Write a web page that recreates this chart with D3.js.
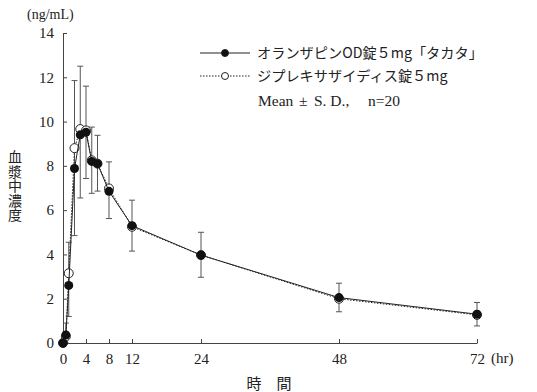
<!DOCTYPE html>
<html>
<head>
<meta charset="utf-8">
<script src="https://cdn.jsdelivr.net/npm/d3@7"></script>
<style>
  body { margin: 0; background: #fff; }
  text { font-family: "Liberation Serif", "DejaVu Serif", serif; fill: #222; }
  .jp { font-family: "Noto Sans CJK JP", sans-serif; }
</style>
</head>
<body>
<svg id="chart" width="537" height="392"></svg>
<script>
(function () {
    'use strict';

    // sampling times (hr)
    var times = [0, 0.5, 1, 2, 3, 4, 5, 6, 8, 12, 24, 48, 72];
    // オランザピンOD錠5mg「タカタ」 mean
    var testMean = [0, 0.36, 2.6, 7.88, 9.4, 9.52, 8.2, 8.1, 6.85, 5.3, 3.97, 2.05, 1.3];
    // ジプレキサザイディス錠5mg mean
    var refMean = [0, 0.3, 3.15, 8.8, 9.66, 9.6, 8.25, 8.1, 6.98, 5.25, 3.97, 2.0, 1.27];
    // ends of the S.D. bars
    var sdTop = [0, 0.9, 4.55, 11.85, 12.5, 11.6, 9.75, 9.38, 8.18, 6.45, 5.0, 2.7, 1.83];
    var sdBottom = [0, 0, 1.2, 4.85, 6.55, 7.43, 6.76, 6.86, 5.62, 4.15, 2.97, 1.41, 0.77];

    var xTicks = [0, 4, 8, 12, 24, 48, 72];
    var yTicks = [0, 2, 4, 6, 8, 10, 12, 14];
    var legendLabels = ["オランザピンOD錠５mg「タカタ」", "ジプレキサザイディス錠５mg"];

    var svg = d3.select("#chart");
    var left = 63, right = 477, top = 33, bottom = 343;

    var x = d3.scaleLinear().domain([0, 72]).range([left, right]);
    var y = d3.scaleLinear().domain([0, 14]).range([bottom, top]);

    // axes, ticks pointing inward
    var xAxis = svg.append("g")
        .attr("transform", "translate(0," + bottom + ")")
        .call(d3.axisBottom(x).tickValues(xTicks).tickSizeInner(-4).tickSizeOuter(0).tickPadding(10));
    var yAxis = svg.append("g")
        .attr("transform", "translate(" + left + ",0)")
        .call(d3.axisLeft(y).tickValues(yTicks).tickSizeInner(-4).tickSizeOuter(0).tickPadding(9));
    [xAxis, yAxis].forEach(function (g) {
        g.select(".domain").attr("stroke", "#444");
        g.selectAll(".tick line").attr("stroke", "#444");
        g.selectAll(".tick text")
            .attr("font-family", "'Liberation Serif', serif")
            .attr("font-size", 15)
            .attr("fill", "#222");
    });

    var pts = times.map(function (t, i) {
        return { t: t, test: testMean[i], ref: refMean[i], hi: sdTop[i], lo: sdBottom[i] };
    });

    // S.D. bars
    var bars = svg.append("g").attr("stroke", "#555").attr("stroke-width", 1);
    pts.filter(function (d) { return d.hi > d.lo; }).forEach(function (d) {
        var cx = x(d.t);
        bars.append("line").attr("x1", cx).attr("x2", cx).attr("y1", y(d.hi)).attr("y2", y(d.lo));
        [d.hi, d.lo].forEach(function (v) {
            bars.append("line").attr("x1", cx - 3).attr("x2", cx + 3).attr("y1", y(v)).attr("y2", y(v));
        });
    });

    // reference series (dotted, open circles)
    var refLine = d3.line().x(function (d) { return x(d.t); }).y(function (d) { return y(d.ref); });
    svg.append("path").datum(pts)
        .attr("d", refLine)
        .attr("fill", "none")
        .attr("stroke", "#222")
        .attr("stroke-width", 1)
        .attr("stroke-dasharray", "1.5,1.5");
    svg.append("g").selectAll("circle").data(pts).enter().append("circle")
        .attr("cx", function (d) { return x(d.t); })
        .attr("cy", function (d) { return y(d.ref); })
        .attr("r", 4.5)
        .attr("fill", "#fff")
        .attr("stroke", "#222")
        .attr("stroke-width", 1);

    // test series (solid, filled circles)
    var testLine = d3.line().x(function (d) { return x(d.t); }).y(function (d) { return y(d.test); });
    svg.append("path").datum(pts)
        .attr("d", testLine)
        .attr("fill", "none")
        .attr("stroke", "#222")
        .attr("stroke-width", 1);
    svg.append("g").selectAll("circle").data(pts).enter().append("circle")
        .attr("cx", function (d) { return x(d.t); })
        .attr("cy", function (d) { return y(d.test); })
        .attr("r", 4.5)
        .attr("fill", "#111");

    // axis titles
    svg.append("text").attr("x", 27).attr("y", 19).attr("font-size", 14).text("(ng/mL)");
    svg.append("text").attr("x", 491).attr("y", 363).attr("font-size", 15).text("(hr)");
    svg.append("text").attr("class", "jp").attr("x", 269).attr("y", 389)
        .attr("text-anchor", "middle").attr("font-size", 15).text("時　間");
    svg.append("text").attr("class", "jp")
        .attr("x", 15).attr("y", 150)
        .attr("font-size", 14)
        .attr("writing-mode", "vertical-rl")
        .attr("letter-spacing", 0.5)
        .text("血漿中濃度");

    // legend
    var lg = svg.append("g");
    var rows = [
        { y: 53, dash: null, fill: "#111" },
        { y: 76, dash: "1.5,1.5", fill: "#fff" }
    ];
    rows.forEach(function (r, i) {
        lg.append("line").attr("x1", 200).attr("x2", 250).attr("y1", r.y).attr("y2", r.y)
            .attr("stroke", "#222").attr("stroke-dasharray", r.dash);
        lg.append("circle").attr("cx", 225).attr("cy", r.y).attr("r", 3.5)
            .attr("fill", r.fill).attr("stroke", "#222");
        lg.append("text").attr("class", "jp").attr("x", 257).attr("y", r.y + 5)
            .attr("font-size", 14.2).text(legendLabels[i]);
    });
    var mean = lg.append("text").attr("y", 106).attr("font-size", 15.5);
    mean.append("tspan").attr("x", 258).text("Mean");
    mean.append("tspan").attr("x", 299).text("±");
    mean.append("tspan").attr("x", 314).text("S. D.,");
    mean.append("tspan").attr("x", 368).text("n=20");
})();
</script>
</body>
</html>
